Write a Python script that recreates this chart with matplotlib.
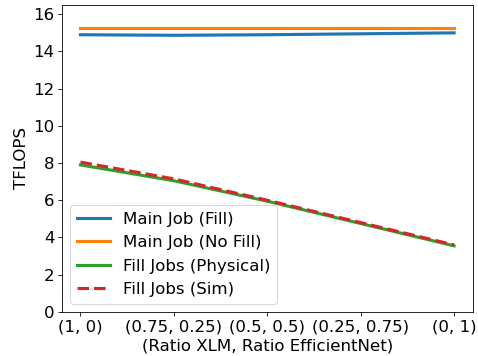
import numpy as np
import matplotlib
matplotlib.use("Agg")
import matplotlib.pyplot as plt

ratios = ["(1, 0)", "(0.75, 0.25)", "(0.5, 0.5)", "(0.25, 0.75)", "(0, 1)"]
main_fill = [14.9, 14.87, 14.9, 14.95, 15.0]
main_nofill = [15.25, 15.25, 15.25, 15.25, 15.25]
fill_phys = [7.9, 7.05, 5.95, 4.75, 3.55]
fill_sim = [8.05, 7.15, 6.0, 4.8, 3.6]

plt.rcParams['font.size'] = 16
fig, ax = plt.subplots(figsize=(6.4, 4.757), dpi=74.84)
x = np.arange(len(ratios))
ax.plot(x, main_fill, label='Main Job (Fill)', lw=3)
ax.plot(x, main_nofill, label='Main Job (No Fill)', lw=3)
ax.plot(x, fill_phys, label='Fill Jobs (Physical)', lw=3)
ax.plot(x, fill_sim, '--', label='Fill Jobs (Sim)', lw=3)
ax.set_xticks(x)
ax.set_xticklabels(ratios)
ax.set_ylim(0, 16.5)
ax.set_xlabel('(Ratio XLM, Ratio EfficientNet)')
ax.set_ylabel('TFLOPS')
ax.legend(loc='lower left')
fig.subplots_adjust(left=0.129, right=0.987, top=0.986, bottom=0.124)
fig.savefig('out.png')
